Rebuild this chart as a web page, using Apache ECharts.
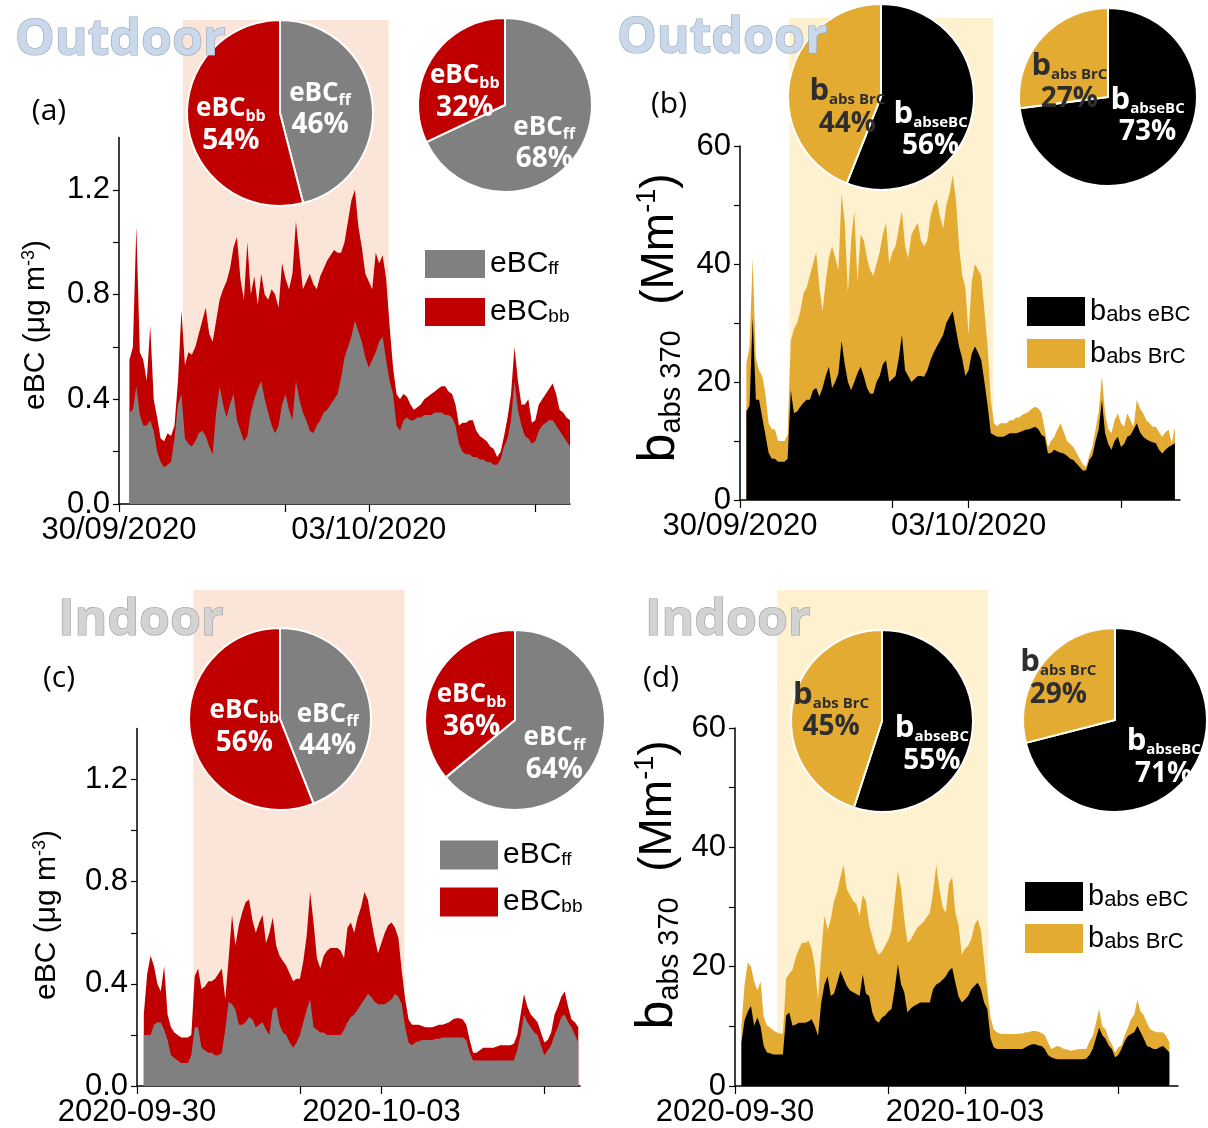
<!DOCTYPE html>
<html><head><meta charset="utf-8">
<script src="https://cdn.jsdelivr.net/npm/echarts@6/dist/echarts.min.js"></script>
<style>html,body{margin:0;padding:0;background:#fff}#c{width:1208px;height:1128px}</style>
</head><body><div id="c"></div>
<script>
// ---------- DATA (hourly, hours since 30/09/2020 00:00) ----------
const HOURS = [
  0,1,2,3,4,5,6,7,8,9, 10,11,12,13,14,15,16,17,18,19, 20,21,22,23,24,25,26,27,28,29,
  30,31,32,33,34,35,36,37,38,39, 40,41,42,43,44,45,46,47,48,49, 50,51,52,53,54,55,56,57,58,59,
  60,61,62,63,64,65,66,67,68,69, 70,71,72,73,74,75,76,77,78,79, 80,81,82,83,84,85,86,87,88,89,
  90,91,92,93,94,95,96,97,98,99, 100,101,102,103,104,105,106,107,108,109, 110,111,112,113,114,115,116,117,118,119,
  120,121,122,123,124,125,126,127,128,129, 130,131,132,133,134,135,136,137,138,139];

// (a) outdoor eBC: top of the stack (eBCff + eBCbb) and the eBCff part
const A_TOTAL = [
  null,null,null,0.55,0.60,1.06,0.58,0.55,0.47,0.68,
  0.40,0.33,0.25,0.24,0.27,0.26,0.30,0.47,0.74,0.53,
  0.58,0.57,0.60,0.65,0.70,0.75,0.65,0.62,0.70,0.78,
  0.82,0.85,0.90,0.98,1.02,0.86,0.78,1.00,0.80,0.87,
  0.76,0.88,0.80,0.78,0.82,0.80,0.75,0.92,0.86,0.82,
  0.88,1.08,0.95,0.82,0.85,0.88,0.84,0.82,0.87,0.90,
  0.93,0.95,0.97,0.96,0.96,1.00,1.08,1.16,1.20,1.06,
  0.98,0.88,0.85,0.82,0.96,0.92,0.95,0.86,0.68,0.52,
  0.42,0.40,0.42,0.41,0.38,0.36,0.37,0.38,0.40,0.41,
  0.42,0.43,0.44,0.45,0.45,0.43,0.42,0.38,0.30,0.31,
  0.31,0.32,0.32,0.28,0.26,0.25,0.24,0.22,0.21,0.18,
  0.20,0.26,0.33,0.42,0.60,0.47,0.38,0.38,0.40,0.31,
  0.32,0.38,0.40,0.42,0.44,0.46,0.42,0.36,0.35,0.33,
  0.32,null,null,null,null,null,null,null,null,null];
const A_FF = [
  null,null,null,0.35,0.36,0.45,0.34,0.30,0.30,0.32,
  0.28,0.20,0.16,0.14,0.15,0.16,0.25,0.38,0.42,0.25,
  0.23,0.22,0.24,0.27,0.28,0.26,0.22,0.19,0.35,0.45,
  0.38,0.33,0.38,0.42,0.32,0.28,0.24,0.26,0.35,0.40,
  0.44,0.47,0.40,0.35,0.30,0.27,0.30,0.38,0.42,0.36,
  0.32,0.47,0.40,0.35,0.32,0.28,0.27,0.30,0.32,0.35,
  0.36,0.38,0.40,0.42,0.48,0.56,0.60,0.64,0.70,0.66,
  0.62,0.56,0.52,0.55,0.58,0.62,0.64,0.55,0.47,0.42,
  0.30,0.28,0.32,0.33,0.32,0.32,0.33,0.33,0.34,0.34,
  0.34,0.35,0.35,0.35,0.34,0.34,0.33,0.30,0.23,0.20,
  0.19,0.19,0.18,0.18,0.17,0.17,0.16,0.16,0.15,0.15,
  0.17,0.22,0.25,0.32,0.47,0.36,0.30,0.26,0.25,0.23,
  0.24,0.28,0.30,0.31,0.32,0.32,0.30,0.28,0.26,0.24,
  0.22,null,null,null,null,null,null,null,null,null];

// (b) outdoor b_abs370: top of the stack (eBC + BrC) and the eBC part
const B_TOTAL = [
  null,null,23,26,41,24,22,21,18,13,
  12,12,10,10,10,11,27,29,30,32,
  35,36,38,40,42,36,32,37,41,43,
  41,39,52,47,35,44,49,37,45,44,
  41,39,38,40,42,45,47,40,42,43,
  46,49,43,41,45,46,47,44,43,44,
  48,50,51,48,46,50,52,55,51,43,
  38,36,28,37,40,39,38,32,26,17,
  13,12.5,13,13,13,13.5,13.5,14,14,14.5,
  14.7,15,15.5,15.8,15.5,14.7,12,9,10,10.7,
  12,13,11.5,10,9.5,9,8,7,6,5.6,
  7.5,9,12,15,21,14.7,12,11.3,13.5,14.7,
  13,12.4,14.7,13.5,12.4,17,15.5,14.7,13.5,13,
  12.4,12.4,11.5,10.7,11.5,11.9,9.6,12.4,null,null];
const B_EBC = [
  null,null,15,16,31,17,17,14,11,8,
  7,7,6.5,6.5,6.5,7,18.6,14.7,15,15.8,
  16.5,17,17,18.6,19,17.5,19,21,22.6,19,
  20,21.5,27,23,20,18.6,20,21.5,22.6,21,
  19,18,18,20,21,23,23.7,20,20.5,21,
  24,28,22,21,20,20.5,21,21,20.9,22,
  23.7,25,26,27,28,30,31,32,29,26,
  24,21,22,24.8,26,25,23.7,20,16,11.3,
  11,10.7,10.7,10.7,11,11.3,11.3,11.3,11.5,11.7,
  11.9,12,12.2,12.4,12,11,10.7,7.9,8,8.5,
  8.2,8,7.9,7.5,7,6.8,6.2,5.6,5,5,
  6.8,7.5,10,12,17,11.3,9.5,8.5,10,10.7,
  9,9.5,10.7,11,12,13,11.5,10.7,10.3,10,
  9.8,9.6,8.5,7.9,8.5,9,9.3,9.6,null,null];

// (c) indoor eBC
const C_TOTAL = [
  null,null,0.28,0.44,0.51,0.47,0.40,0.37,0.47,0.28,
  0.23,0.21,0.20,0.19,0.19,0.19,0.20,0.43,0.46,0.38,
  0.39,0.41,0.41,0.42,0.44,0.46,0.34,0.50,0.67,0.55,
  0.63,0.68,0.72,0.73,0.65,0.60,0.64,0.67,0.56,0.60,
  0.66,0.55,0.51,0.49,0.47,0.44,0.41,0.42,0.42,0.49,
  0.59,0.76,0.64,0.50,0.46,0.51,0.53,0.54,0.54,0.54,
  0.53,0.50,0.62,0.64,0.60,0.66,0.70,0.76,0.73,0.65,
  0.58,0.52,0.56,0.60,0.63,0.64,0.62,0.58,0.45,0.34,
  0.26,0.24,0.24,0.24,0.235,0.23,0.23,0.23,0.235,0.24,
  0.24,0.245,0.25,0.26,0.265,0.265,0.26,0.24,0.18,0.13,
  0.13,0.14,0.15,0.15,0.15,0.15,0.155,0.16,0.16,0.16,
  0.16,0.165,0.20,0.28,0.36,0.31,0.28,0.265,0.25,0.21,
  0.17,0.18,0.21,0.28,0.31,0.35,0.37,0.31,0.26,0.25,
  0.23,null,null,null,null,null,null,null,null,null];
const C_FF = [
  null,null,0.20,0.20,0.20,0.24,0.25,0.25,0.22,0.18,
  0.12,0.11,0.10,0.09,0.09,0.09,0.12,0.23,0.23,0.15,
  0.14,0.13,0.13,0.12,0.12,0.13,0.22,0.33,0.32,0.30,
  0.24,0.24,0.25,0.27,0.26,0.23,0.24,0.25,0.22,0.20,
  0.30,0.31,0.24,0.21,0.20,0.17,0.15,0.17,0.20,0.25,
  0.30,0.34,0.23,0.22,0.21,0.21,0.20,0.20,0.20,0.20,
  0.20,0.22,0.25,0.27,0.28,0.30,0.32,0.34,0.36,0.35,
  0.33,0.32,0.32,0.32,0.33,0.34,0.36,0.35,0.32,0.23,
  0.17,0.16,0.17,0.175,0.18,0.18,0.18,0.18,0.185,0.185,
  0.19,0.19,0.19,0.19,0.19,0.19,0.19,0.18,0.13,0.10,
  0.10,0.10,0.10,0.10,0.10,0.10,0.10,0.10,0.10,0.10,
  0.10,0.10,0.14,0.20,0.28,0.25,0.23,0.21,0.20,0.16,
  0.12,0.14,0.16,0.20,0.23,0.27,0.28,0.25,0.23,0.20,
  0.17,null,null,null,null,null,null,null,null,null];

// (d) indoor b_abs370
const D_TOTAL = [
  null,null,10,17,20.7,20,17.5,16,17.5,11.5,
  10.2,9.8,9.3,9,8.8,8.7,18,18.8,19.5,21.5,
  22.9,24,24,24.3,23,20,14.5,22.3,28.5,26.2,
  28,31,32.5,35,37,33,32,31,30.5,28.5,
  32,31,27,25,23,22,22.5,23.5,24.5,26,
  31,36,33,28,24,24.5,25.5,26.5,27,27.5,
  28.3,29,32.4,37,33,30,29,34,35,29,
  27,22,23,23.5,24.6,27,27.9,26,21,16,
  11.5,9.5,9,8.8,8.7,8.7,8.7,8.7,8.7,8.8,
  8.8,9,9,9.2,9.2,9.1,8.9,8.5,7.3,6.2,
  6.5,6.7,6.5,6.2,6.1,5.9,6,6.1,6.2,6.2,
  6.2,7.5,8.4,10.5,12.9,10,9.5,7.9,7,5.6,
  6.5,6.8,8.5,9.8,11.2,12,14.5,12.5,11.8,10.5,
  9.5,9.2,9,9,9,8.4,7.3,null,null,null];
const D_EBC = [
  null,null,7.3,11,12.5,13.4,10.1,11.5,10,6.7,
  5.6,5.5,5.3,5.3,5.3,5.3,11.8,12.3,10.1,10.3,
  10.6,10.6,10.6,10.8,11.2,10,8.4,14,17,18.4,
  15.1,15.5,17.3,19.3,18,16.8,16,15.7,15.4,15.1,
  18.7,15.5,15.1,12.3,11,10.6,11.5,11.8,12.5,12.9,
  16.2,20.4,17,15.7,12.3,13,13.4,13.7,14,14,
  14,14,16.2,17,17.3,17.8,18.4,19.3,19.8,17.3,
  15,14,14.5,15.1,16.2,16.8,17.3,16.2,14,12.9,
  8,6.5,6.2,6.2,6.2,6.2,6.2,6.2,6.2,6.2,
  6.2,6.5,6.8,7,7,6.8,6.7,6.2,5.2,4.8,
  4.6,4.5,4.5,4.5,4.5,4.5,4.5,4.5,4.5,4.5,
  4.6,5.2,6.2,8,9.8,8.5,7.9,6.8,6.2,4.8,
  5.2,6.2,7.5,8.4,8.7,9,10.1,9,7.9,6.7,
  6.5,6.2,6.2,6.5,6.7,6.2,5.6,null,null,null];

// pie percentages [base component, top component]
const PIE_A_LEFT = [46, 54], PIE_A_RIGHT = [68, 32];   // eBCff, eBCbb
const PIE_B_LEFT = [56, 44], PIE_B_RIGHT = [73, 27];   // babs eBC, babs BrC
const PIE_C_LEFT = [44, 56], PIE_C_RIGHT = [64, 36];
const PIE_D_LEFT = [55, 45], PIE_D_RIGHT = [71, 29];

// shaded periods (hours)
const SHADE_A = [18.4, 77.7], SHADE_B = [15.6, 79.8], SHADE_C = [16.6, 78.8], SHADE_D = [13.2, 79.3];

// axis ticks / labels
const X_TICKS = [0, 48, 72, 120];
const X_LABEL_HOURS = [0, 72];
const X_LABELS_TOP = ['30/09/2020', '03/10/2020'];
const X_LABELS_BOTTOM = ['2020-09-30', '2020-10-03'];
const Y_TICKS_EBC = [0, 0.2, 0.4, 0.6, 0.8, 1.0, 1.2];
const Y_LABELS_EBC = [0, 0.4, 0.8, 1.2];
const Y_TICKS_BABS = [0, 10, 20, 30, 40, 50, 60];
const Y_LABELS_BABS = [0, 20, 40, 60];

// ---------- STYLE / LAYOUT ----------
const COL = {ff:'#808080', bb:'#c00000', ebc:'#000000', brc:'#e3ab32'};
const SHADE_COL = {ebc:'#fbe4d8', babs:'#fef1cf'};
const LEG = {ff:['eBC','ff'], bb:['eBC','bb'], ebc:['b','abs eBC'], brc:['b','abs BrC']};
const PIE_LEG = {ff:['eBC','ff'], bb:['eBC','bb'], ebc:['b','abseBC'], brc:['b','abs BrC']};

// pie: [values, center, radius, label nudges [base, top]]
const panels = [
  {k:'a', kind:'ebc', grid:{left:119, top:137.5, width:451, height:366.5}, xmax:130, xl:X_LABELS_TOP,
   total:A_TOTAL, base:A_FF, shade:SHADE_A, shadeTop:20,
   pies:[[PIE_A_LEFT,[280,113],93,[[-4.5,1.5],[0,3]]],[PIE_A_RIGHT,[505,105],87,[[0,7],[-0.5,6]]]],
   legend:{left:425, top:249, w:60, h:28, gap:18}, title:'Outdoor', titlePos:[15,41], lab:'(a)', labPos:[49,111], ytPos:[36,325]},
  {k:'b', kind:'babs', grid:{left:740, top:146, width:440, height:354}, xmax:138.6, xl:X_LABELS_TOP,
   total:B_TOTAL, base:B_EBC, shade:SHADE_B, shadeTop:18,
   pies:[[PIE_B_LEFT,[881,97],93,[[0.5,12],[7.5,10]]],[PIE_B_RIGHT,[1108,97],89,[[2,-6],[-1.5,8.5]]]],
   legend:{left:1027, top:297, w:58, h:29, gap:13}, title:'Outdoor', titlePos:[617,39], lab:'(b)', labPos:[669,104], ytPos:[660,318]},
  {k:'c', kind:'ebc', grid:{left:137, top:728.5, width:443, height:359.5}, xmax:130.5, xl:X_LABELS_BOTTOM,
   total:C_TOTAL, base:C_FF, shade:SHADE_C, shadeTop:590,
   pies:[[PIE_C_LEFT,[280,719],91,[[0,10.5],[6,-0.5]]],[PIE_C_RIGHT,[515,720],90,[[-2,7],[0,6]]]],
   legend:{left:440, top:840, w:58, h:29, gap:17}, title:'Indoor', titlePos:[58,621], lab:'(c)', labPos:[59,678], ytPos:[47,915]},
  {k:'d', kind:'babs', grid:{left:735, top:728, width:443, height:359}, xmax:138.7, xl:X_LABELS_BOTTOM,
   total:D_TOTAL, base:D_EBC, shade:SHADE_D, shadeTop:590,
   pies:[[PIE_D_LEFT,[882,721],91,[[1,8],[-1.5,-1]]],[PIE_D_RIGHT,[1115,720],92,[[5,4],[-9,-5.5]]]],
   legend:{left:1025, top:882, w:58, h:29, gap:13}, title:'Indoor', titlePos:[645,621], lab:'(d)', labPos:[661,678], ytPos:[658,885]}
];

const chart = echarts.init(document.getElementById('c'), null, {renderer:'canvas', width:1208, height:1128});

const grids = [], xAxes = [], yAxes = [], series = [], legends = [];
const TICKFONT = 'Liberation Sans';

panels.forEach((P, i) => {
  const baseKey = P.kind === 'ebc' ? 'ff' : 'ebc';
  const topKey  = P.kind === 'ebc' ? 'bb' : 'brc';
  grids.push(Object.assign({containLabel:false}, P.grid));
  xAxes.push({
    type:'value', gridIndex:i, min:0, max:P.xmax,
    axisLine:{show:true, onZero:false, lineStyle:{color:'#000', width:1.5}},
    axisTick:{show:true, customValues:X_TICKS, length:8, lineStyle:{color:'#000', width:1.2}},
    axisLabel:{show:true, customValues:X_LABEL_HOURS, formatter:v => P.xl[X_LABEL_HOURS.indexOf(v)] || '',
      fontSize:31, fontFamily:TICKFONT, color:'#000', margin:11},
    splitLine:{show:false}
  });
  const yt = P.kind === 'ebc' ? Y_TICKS_EBC : Y_TICKS_BABS;
  const yl = P.kind === 'ebc' ? Y_LABELS_EBC : Y_LABELS_BABS;
  yAxes.push({
    type:'value', gridIndex:i, min:0, max:P.kind === 'ebc' ? 1.4 : 60,
    axisLine:{show:true, onZero:false, lineStyle:{color:'#000', width:1.5}},
    axisTick:{show:true, customValues:yt, length:6, lineStyle:{color:'#000', width:1.2}},
    axisLabel:{show:true, customValues:yl, formatter:v => P.kind === 'ebc' ? v.toFixed(1) : String(v),
      fontSize:31, fontFamily:TICKFONT, color:'#000', margin:9},
    splitLine:{show:false}
  });
  const tn = topKey + '_' + P.k, bn = baseKey + '_' + P.k;
  series.push({
    type:'line', name:tn, xAxisIndex:i, yAxisIndex:i, z:2,
    data:HOURS.map((h, j) => [h, P.total[j]]),
    symbol:'none', showSymbol:false, connectNulls:false, silent:true,
    lineStyle:{width:0}, areaStyle:{color:COL[topKey], opacity:1}, itemStyle:{color:COL[topKey]}
  });
  series.push({
    type:'line', name:bn, xAxisIndex:i, yAxisIndex:i, z:3,
    data:HOURS.map((h, j) => [h, P.base[j]]),
    symbol:'none', showSymbol:false, connectNulls:false, silent:true,
    lineStyle:{width:0}, areaStyle:{color:COL[baseKey], opacity:1}, itemStyle:{color:COL[baseKey]}
  });
  legends.push({
    data:[bn, tn], orient:'vertical', left:P.legend.left, top:P.legend.top, padding:0,
    itemWidth:P.legend.w, itemHeight:P.legend.h, itemGap:P.legend.gap, icon:'rect', selectedMode:false,
    itemStyle:{borderWidth:0},
    formatter:name => { const p = LEG[name.split('_')[0]]; return '{m|' + p[0] + '}{s|' + p[1] + '}'; },
    textStyle:{color:'#000', fontFamily:TICKFONT, rich:{
      m:{fontSize:P.kind === 'ebc' ? 30 : 29, fontFamily:TICKFONT, color:'#000', lineHeight:28},
      s:{fontSize:P.kind === 'ebc' ? 19 : 22, fontFamily:TICKFONT, color:'#000', lineHeight:12, verticalAlign:'bottom'}
    }}
  });
  P.pies.forEach(([vals, center, r, offs]) => {
    const keys = [baseKey, topKey];
    series.push({
      type:'pie', center:center, radius:r, startAngle:90, clockwise:true, silent:true, z:5,
      avoidLabelOverlap:false,
      itemStyle:{borderColor:'#fff', borderWidth:2},
      labelLine:{show:false}, emphasis:{disabled:true},
      labelLayout:params => ({dx:offs[params.dataIndex][0], dy:offs[params.dataIndex][1], hideOverlap:false}),
      data:keys.map((key, j) => ({
        name:key, value:vals[j], itemStyle:{color:COL[key]},
        label:{color:key === 'brc' ? '#2e2e2e' : '#ffffff'}
      })),
      label:{
        show:true, position:'inside', fontFamily:'Open Sans', fontWeight:'bold',
        formatter:p => { const q = PIE_LEG[p.name]; const b = q[0] === 'b';
          return '{' + (b ? 'pb' : 'pm') + '|' + q[0] + '}{' + (b ? 'pbs' : 'ps') + '|' + q[1] + '}\n{pp|' + p.value + '%}'; },
        rich:{
          pm:{fontSize:26, fontWeight:'bold', fontFamily:'Open Sans', lineHeight:31},
          pb:{fontSize:31, fontWeight:'bold', fontFamily:'Open Sans', lineHeight:32},
          ps:{fontSize:16, fontWeight:'bold', fontFamily:'Open Sans', lineHeight:12, verticalAlign:'bottom'},
          pbs:{fontSize:15, fontWeight:'bold', fontFamily:'Open Sans', lineHeight:12, verticalAlign:'bottom'},
          pp:{fontSize:28, fontWeight:'bold', fontFamily:'Open Sans', lineHeight:33}
        }
      }
    });
  });
});

chart.setOption({
  animation:false, backgroundColor:'#fff',
  grid:grids, xAxis:xAxes, yAxis:yAxes, legend:legends, series:series
});

// ---------- annotations (shading, titles, labels) ----------
const elements = [];
panels.forEach((P, i) => {
  const p0 = chart.convertToPixel({gridIndex:i}, [P.shade[0], 0]);
  const p1 = chart.convertToPixel({gridIndex:i}, [P.shade[1], 0]);
  elements.push({type:'rect', z:-5, silent:true,
    shape:{x:p0[0], y:P.shadeTop, width:p1[0] - p0[0], height:p0[1] - P.shadeTop - 1},
    style:{fill:SHADE_COL[P.kind]}});
  const outdoor = P.title === 'Outdoor';
  elements.push({type:'text', z:20, silent:true, x:P.titlePos[0], y:P.titlePos[1],
    style:{text:P.title, font:'bold 50px "Open Sans"', fill:outdoor ? '#c9d8ea' : '#d3d3d3',
      stroke:outdoor ? '#97a4b4' : '#9a9a9a', lineWidth:1.2, align:'left', verticalAlign:'middle',
      shadowColor:'rgba(0,0,0,0.35)', shadowBlur:3, shadowOffsetX:2, shadowOffsetY:3}});
  elements.push({type:'text', z:20, silent:true, x:P.labPos[0], y:P.labPos[1],
    style:{text:P.lab, font:'30px "Open Sans"', fill:'#000', align:'center', verticalAlign:'middle'}});
  const yt = P.kind === 'ebc'
    ? {text:'{m|eBC (μg m}{u|-3}{m|)}', rich:{
        m:{fontSize:30, fontFamily:TICKFONT, fill:'#000', lineHeight:32},
        u:{fontSize:18, fontFamily:TICKFONT, fill:'#000', lineHeight:14, verticalAlign:'top'}}}
    : {text:'{b|b}{s|abs 370}{m|  (Mm}{u|-1}{m|)}', rich:{
        b:{fontSize:52, fontFamily:TICKFONT, fill:'#000', lineHeight:52},
        s:{fontSize:29, fontFamily:TICKFONT, fill:'#000', lineHeight:22, verticalAlign:'bottom'},
        m:{fontSize:46, fontFamily:TICKFONT, fill:'#000', lineHeight:52},
        u:{fontSize:27, fontFamily:TICKFONT, fill:'#000', lineHeight:20, verticalAlign:'top'}}};
  elements.push({type:'text', z:20, silent:true, x:P.ytPos[0], y:P.ytPos[1], rotation:Math.PI / 2,
    style:Object.assign({align:'center', verticalAlign:'middle'}, yt)});
});
chart.setOption({graphic:{elements:elements}});
</script></body></html>
